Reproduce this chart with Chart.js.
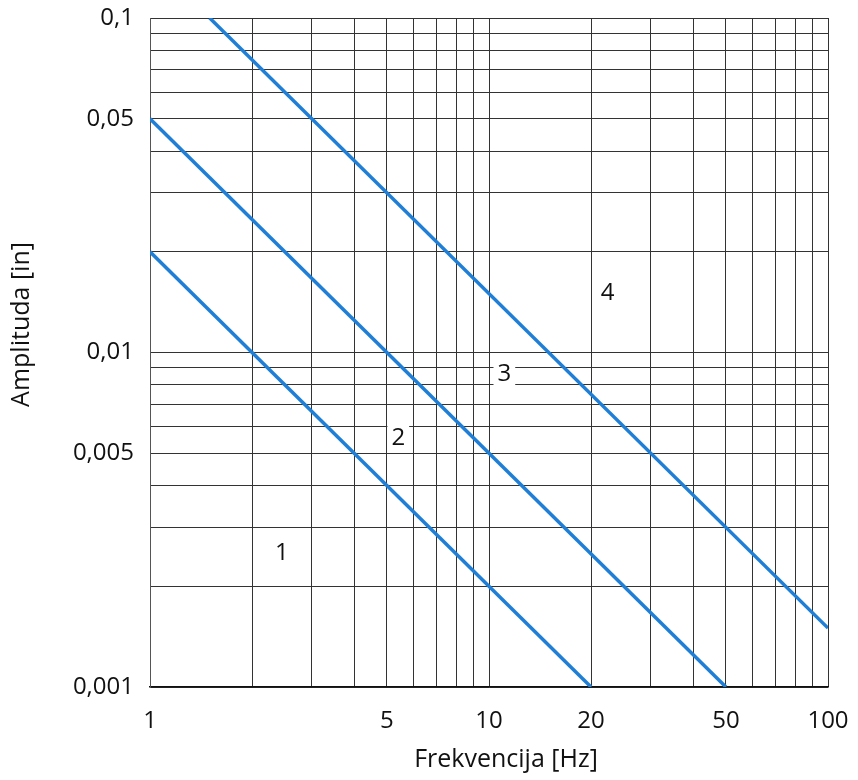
<!DOCTYPE html>
<html>
<head>
<meta charset="utf-8">
<script src="https://cdn.jsdelivr.net/npm/chart.js@4.4.1/dist/chart.umd.min.js"></script>
<style>
  html, body { margin: 0; padding: 0; background: #fff; }
  #wrap { width: 858px; height: 780px; }
</style>
</head>
<body>
<div id="wrap"><canvas id="c" width="858" height="780"></canvas></div>
<script>
// ---- data ----
const line1Freq = [1, 20];
const line1Amp  = [0.02, 0.001];
const line2Freq = [1, 50];
const line2Amp  = [0.05, 0.001];
const line3Freq = [1.5, 100];
const line3Amp  = [0.1, 0.0015];

const regionLabels = ['1', '2', '3', '4'];
const regionFreq   = [2.45, 5.4, 11.1, 22.4];
const regionAmp    = [0.00253, 0.0056, 0.0087, 0.0152];

const xGridTicks  = [1, 2, 3, 4, 5, 6, 7, 8, 9, 10, 20, 30, 40, 50, 60, 70, 80, 90, 100];
const xLabelTicks = [1, 5, 10, 20, 50, 100];
const yGridTicks  = [0.001, 0.002, 0.003, 0.004, 0.005, 0.006, 0.007, 0.008, 0.009,
                     0.01, 0.02, 0.03, 0.04, 0.05, 0.06, 0.07, 0.08, 0.09, 0.1];
const yLabelTicks = [0.001, 0.005, 0.01, 0.05, 0.1];

const xTitle = 'Frekvencija [Hz]';
const yTitle = 'Amplituda [in]';

// ---- helpers ----
function pts(xs, ys) { return xs.map((x, i) => ({ x: x, y: ys[i] })); }
function isLabel(list, v) { return list.some(t => Math.abs(t - v) / t < 1e-6); }
function fmt(v) { return String(v).replace('.', ','); }

const FONT = "'Open Sans', 'Noto Sans', sans-serif";
const LINE_COLOR = '#1f7fd6';
const GRID_COLOR = '#333333';

const regionLabelPlugin = {
  id: 'regionLabels',
  beforeDatasetsDraw(chart) {
    const ctx = chart.ctx;
    const xs = chart.scales.x, ys = chart.scales.y;
    ctx.save();
    ctx.font = "24px " + FONT;
    ctx.textAlign = 'center';
    ctx.textBaseline = 'middle';
    regionLabels.forEach((t, i) => {
      const px = xs.getPixelForValue(regionFreq[i]);
      const py = ys.getPixelForValue(regionAmp[i]);
      const w = ctx.measureText(t).width + 8;
      ctx.fillStyle = '#ffffff';
      ctx.fillRect(px - w / 2, py - 13, w, 26);
      ctx.fillStyle = '#111111';
      ctx.fillText(t, px, py + 1);
    });
    ctx.restore();
  },
  afterDraw(chart) {
    // axis titles, placed relative to the chart area
    const ctx = chart.ctx;
    const a = chart.chartArea;
    ctx.save();
    ctx.font = "25px " + FONT;
    ctx.fillStyle = '#111111';
    ctx.textAlign = 'center';
    ctx.textBaseline = 'middle';
    ctx.fillText(xTitle, (a.left + a.right) / 2 + 17, a.bottom + 73);
    ctx.translate(22, (a.top + a.bottom) / 2 - 28);
    ctx.rotate(-Math.PI / 2);
    ctx.fillText(yTitle, 0, 0);
    ctx.restore();
  }
};

const ds = (xs, ys) => ({
  data: pts(xs, ys),
  borderColor: LINE_COLOR,
  backgroundColor: LINE_COLOR,
  borderWidth: 3.5,
  pointRadius: 0,
  showLine: true,
  fill: false,
  tension: 0
});

new Chart(document.getElementById('c'), {
  type: 'scatter',
  data: {
    datasets: [ds(line1Freq, line1Amp), ds(line2Freq, line2Amp), ds(line3Freq, line3Amp)]
  },
  options: {
    responsive: false,
    animation: false,
    devicePixelRatio: 1,
    layout: { padding: { left: 0, right: 30, top: 18, bottom: 0 } },
    plugins: { legend: { display: false }, tooltip: { enabled: false } },
    scales: {
      x: {
        type: 'logarithmic',
        min: 1, max: 100,
        afterBuildTicks(scale) { scale.ticks = xGridTicks.map(v => ({ value: v })); },
        afterFit(scale) { scale.height = 93; scale.paddingLeft = 0; scale.paddingRight = 0; },
        ticks: {
          autoSkip: false,
          maxRotation: 0,
          padding: 20,
          color: '#111',
          font: { family: FONT, size: 24 },
          callback: (v) => isLabel(xLabelTicks, v) ? fmt(v) : ''
        },
        grid: { color: GRID_COLOR, lineWidth: 1, drawTicks: false },
        border: { display: true, color: '#111', width: 1.5 },
        title: { display: false, text: xTitle }
      },
      y: {
        type: 'logarithmic',
        min: 0.001, max: 0.1,
        afterBuildTicks(scale) { scale.ticks = yGridTicks.map(v => ({ value: v })); },
        afterFit(scale) { scale.width = 150; scale.paddingTop = 0; scale.paddingBottom = 0; },
        ticks: {
          autoSkip: false,
          padding: 16,
          color: '#111',
          font: { family: FONT, size: 24 },
          callback: (v) => isLabel(yLabelTicks, v) ? fmt(v) : ''
        },
        grid: { color: GRID_COLOR, lineWidth: 1, drawTicks: false },
        border: { display: true, color: '#555', width: 1 },
        title: { display: false, text: yTitle }
      }
    }
  },
  plugins: [regionLabelPlugin]
});
</script>
</body>
</html>
